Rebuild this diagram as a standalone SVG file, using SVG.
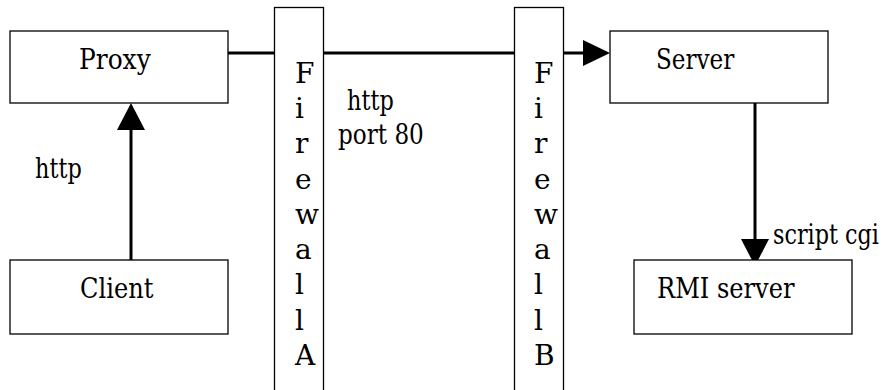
<svg xmlns="http://www.w3.org/2000/svg" width="890" height="390" viewBox="0 0 890 390">
<style>
.box{fill:#fff;stroke:#000;stroke-width:1.3}
.conn{stroke:#000;stroke-width:3;fill:none}
.head{fill:#000}
</style>
<rect width="890" height="390" fill="#fff"/>
<g font-family="DejaVu Serif, Liberation Serif, serif" font-size="28" fill="#000">
<g id="connectors">
<line class="conn" x1="228" y1="53" x2="586" y2="53"/>
<polygon class="head" points="610,53 583,40 583,66"/>
<line class="conn" x1="131" y1="260" x2="131" y2="128"/>
<polygon class="head" points="131,103 117,130 145,130"/>
<line class="conn" x1="755" y1="103" x2="755" y2="242"/>
<polygon class="head" points="755,266 741,239 769,239"/>
<text x="35" y="178" textLength="46.7" lengthAdjust="spacingAndGlyphs">http</text>
<text x="347" y="110" textLength="46.7" lengthAdjust="spacingAndGlyphs">http</text>
<text x="338" y="144" textLength="85.8" lengthAdjust="spacingAndGlyphs">port 80</text>
<text x="773" y="244" textLength="106" lengthAdjust="spacingAndGlyphs">script cgi</text>
</g>
<g id="proxy">
<rect class="box" x="10" y="31" width="218" height="72"/>
<text x="79" y="69" textLength="71.7" lengthAdjust="spacingAndGlyphs">Proxy</text>
</g>
<g id="client">
<rect class="box" x="10" y="260" width="218" height="74"/>
<text x="80" y="298" textLength="73.4" lengthAdjust="spacingAndGlyphs">Client</text>
</g>
<g id="firewallA">
<rect class="box" x="274.5" y="7.5" width="49" height="400"/>
<text x="295" y="83">F</text>
<text x="295" y="118">i</text>
<text x="295" y="153">r</text>
<text x="295" y="188.5">e</text>
<text x="295" y="224">w</text>
<text x="295" y="259">a</text>
<text x="295" y="294">l</text>
<text x="295" y="329.5">l</text>
<text x="295" y="365">A</text>
</g>
<g id="firewallB">
<rect class="box" x="514.5" y="7.5" width="49" height="400"/>
<text x="534" y="83">F</text>
<text x="534" y="118">i</text>
<text x="534" y="153">r</text>
<text x="534" y="188.5">e</text>
<text x="534" y="224">w</text>
<text x="534" y="259">a</text>
<text x="534" y="294">l</text>
<text x="534" y="329.5">l</text>
<text x="534" y="365">B</text>
</g>
<g id="server">
<rect class="box" x="610" y="31" width="218" height="72"/>
<text x="656" y="69" textLength="78.3" lengthAdjust="spacingAndGlyphs">Server</text>
</g>
<g id="rmi">
<rect class="box" x="634" y="260" width="218" height="74"/>
<text x="657" y="298" textLength="137.5" lengthAdjust="spacingAndGlyphs">RMI server</text>
</g>
</g>
</svg>
